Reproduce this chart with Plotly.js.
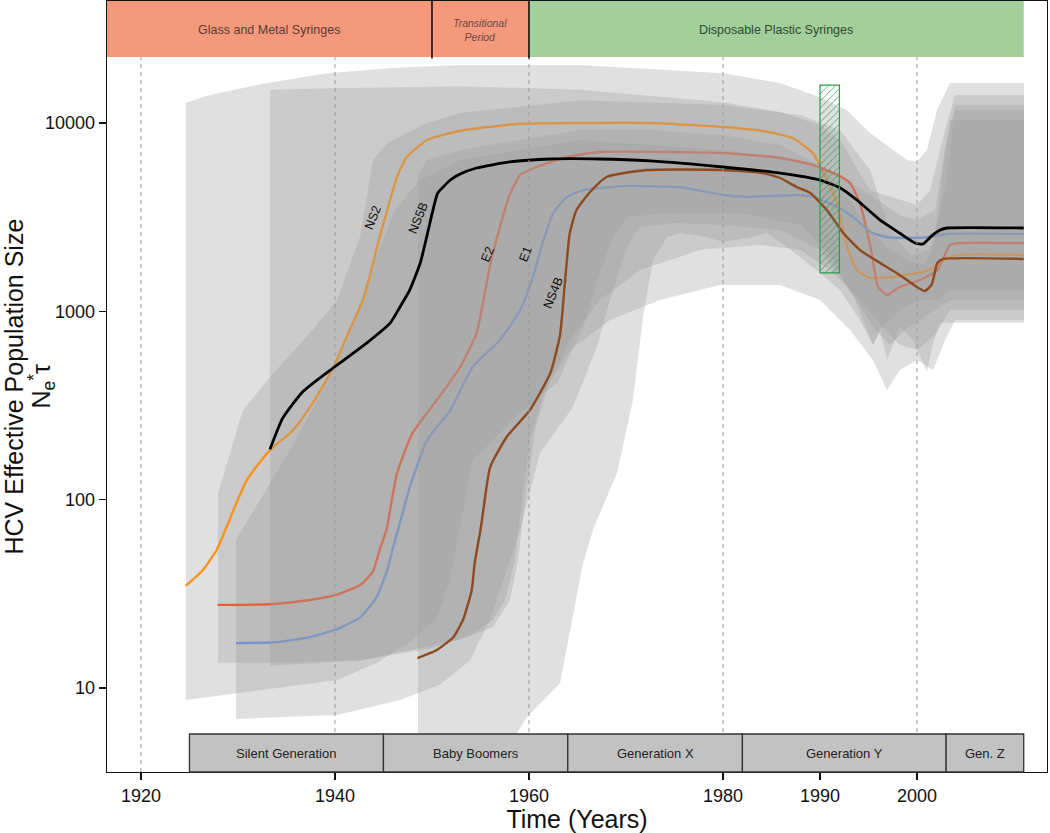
<!DOCTYPE html>
<html>
<head>
<meta charset="utf-8">
<script src="https://cdn.plot.ly/plotly-3.0.1.min.js"></script>
<style>html,body{margin:0;padding:0;background:#fff;}#chart{width:1050px;height:833px;}</style>
</head>
<body>
<div id="chart"></div>
<script>
// ---------- DATA ----------
// Median skyline lines (year, Ne*tau)
const ns2Years = [1924.6,1926.4,1927.8,1928.7,1930.9,1933.3,1935.7,1937.7,1939.8,1941.5,1942.9,1944.6,1946.4,1947.4,1949.5,1952.9,1958.8,1965.3,1972.5,1980,1984.1,1987.2,1989.3,1990.7,1991.8,1992.8,1993.8,1995.2,1997.2,2000.6,2001.6,2002.7,2004.1,2011];
const ns2Vals  = [34.8,42.3,54,69,127,183,234,325,500,796,1148,2470,5160,6600,8130,9100,9880,10000,10000,9520,9070,8320,6900,4980,3670,2195,1655,1503,1520,1617,1700,1870,1990,1990];

const ns5bYears = [1933.3,1934.6,1936.7,1939.8,1943.3,1945.7,1946.7,1947.7,1948.8,1949.5,1950.1,1950.6,1951.9,1952.9,1954.6,1958,1962.2,1967.3,1972.5,1980,1985.9,1990,1992.1,1993.8,1996.2,1998.2,1999.8,2000.6,2001.6,2002.4,2003.1,2011];
const ns5bVals  = [185,270,375,500,680,868,1055,1297,1810,2540,3450,4250,4980,5360,5770,6210,6440,6440,6290,5840,5420,4980,4520,3900,3050,2605,2305,2277,2540,2700,2770,2770];

const e2Years = [1927.9,1933.3,1937.4,1940.2,1942.6,1943.9,1944.6,1945.3,1946.4,1948,1950.5,1952.9,1954.6,1956,1957,1958,1959.1,1960.8,1963.9,1967.3,1980,1985.9,1989.3,1991.8,1993.1,1994.1,1995.2,1996,1996.9,1998.2,2000.3,2002.1,2003.4,2004.4,2011];
const e2Vals  = [27.6,27.8,29.3,31.3,35.2,41.3,54,69,138,226,338,506,767,1765,2800,4150,5300,5840,6600,7010,6930,6520,5985,5300,4800,3760,2195,1345,1222,1345,1467,1655,2250,2305,2305];

const e1Years = [1929.8,1934,1937.4,1940.2,1942.6,1944.3,1945.4,1946,1946.5,1947.7,1949.5,1951.9,1954.2,1957,1959.1,1960.4,1961.4,1962.5,1963.9,1965.6,1969.7,1975.6,1980,1982.5,1987.6,1989.3,1991.8,1993.4,1995.2,1996.9,1999.6,2001.3,2003.1,2011];
const e1Vals  = [17.3,17.5,18.6,20.5,23.7,30.4,42.3,56,69,116,207,299,506,704,1016,1520,2300,3320,4050,4400,4620,4560,4150,4050,4150,4050,3580,3170,2640,2480,2450,2480,2575,2575];

const ns4bYears = [1948.5,1950.5,1952.2,1953.2,1954.1,1954.4,1955,1955.2,1956,1957.7,1960.1,1962.2,1963.2,1963.7,1964.2,1964.9,1966.3,1968,1972.2,1980,1984.1,1985.9,1987.6,1989,1990.7,1992.4,1994.1,1996.2,1998.2,2000,2000.8,2001.5,2002.1,2002.7,2011];
const ns4bVals  = [14.4,15.9,18.6,23,33.1,46,69,81,149,215,299,470,748,1410,2590,3450,4300,5170,5630,5630,5420,5105,4570,4250,3450,2605,2120,1805,1560,1345,1282,1380,1805,1897,1897];

// 95% HPD bands
const ns2BandUpYears = [1924.64,1927.11,1932.99,1939.18,1945.98,1952.89,1965.26,1980,1985.88,1990,1992.78,1995.15,1998.97,2000,2001.03,2002.06,2003.40,2011.03];
const ns2BandUp      = [12800,14100,16300,18400,19600,20300,20300,18400,16300,13700,11700,8850,6360,6230,7200,11700,16300,16300];
const ns2BandLoYears = [1924.64,1940.21,1944.33,1948.04,1950.52,1951.86,1952.89,1954.23,1959.07,1962.89,1965.57,1967.32,1968.66,1970.10,1974.85,1981.75,1987.94,1991.03,1993.61,1995.46,1996.19,1998.25,2000.31,2002.37,2003.40,2011.03];
const ns2BandLo      = [8.63,11.0,13.6,18.0,23.5,37.4,69,162,288,416,826,1597,2482,3170,3326,3326,2874,1991,1148,662,796,1016,1148,1148,1297,1297];

const ns5bBandUpYears = [1933.30,1939.79,1952.89,1965.26,1980,1985.88,1990,1992.06,1995.15,1998.25,2000,2001.34,2002.89,2003.92,2011.03];
const ns5bBandUp      = [15000,15300,15700,15000,12900,11430,9760,8130,4400,3900,3670,4400,9180,14100,14100];
const ns5bBandLoYears = [1933.30,1942.58,1952.89,1956.29,1958.04,1958.87,1959.59,1960.62,1962.16,1964.23,1967.32,1971.44,1977.63,1983.81,1987.94,1991.03,1994.12,1996.70,1998.25,2000,2001.86,2003.40,2011.03];
const ns5bBandLo      = [13.1,14.0,18.0,21.0,29.3,47.8,99.5,234,432,704,1148,1655,2120,2250,2120,1655,1148,796,662,623,748,1016,1016];

const e2BandUpYears = [1927.94,1930.52,1933.30,1937.42,1940.21,1942.58,1943.92,1945.36,1949.48,1952.89,1965.26,1980,1987.94,1992.06,1995.15,1997.22,1999.28,2001.34,2002.89,2003.92,2011.03];
const e2BandUp      = [108,299,448,767,1148,2480,6360,7830,10000,11300,13200,12470,11030,9180,5630,2700,1990,2120,4400,11700,11700];
const e2BandLoYears = [1927.94,1933.30,1942.58,1949.79,1953.92,1956.29,1957.53,1958.56,1959.28,1960.10,1961.65,1964.23,1968.35,1973.51,1979.69,1985.88,1990,1993.09,1995.46,1996.91,1998.25,2000,2001.65,2002.89,2003.92,2011.03];
const e2BandLo      = [13.6,13.6,14.0,16.2,19.0,23.0,29.3,47.8,99.5,207,382,623,899,1148,1380,1380,1148,796,551,382,488,551,488,704,899,899];

const e1BandUpYears = [1929.79,1932.27,1935.36,1938.45,1941.55,1944.12,1946.19,1948.76,1952.89,1959.07,1965.26,1980,1987.94,1992.06,1995.15,1998.25,2000,2001.86,2003.40,2011.03];
const e1BandUp      = [61,99.5,183,359,796,1870,3450,4980,6360,7200,8130,7200,6360,5300,4150,3240,3050,3450,10370,10370];
const e1BandLoYears = [1929.79,1940.21,1946.70,1950.82,1953.92,1955.98,1958.04,1959.07,1961.13,1964.54,1967.01,1968.35,1970.10,1971.44,1974.85,1980,1985.88,1990,1993.09,1995.67,1997.22,1998.76,2000.31,2001.86,2003.40,2011.03];
const e1BandLo      = [6.84,7.18,8.63,10.4,14.0,23.0,47.8,69,177,310,646,1148,2195,2805,2945,2874,2700,2120,1297,796,662,796,899,1016,1148,1148];

const ns4bBandUpYears = [1948.56,1949.48,1952.89,1959.07,1965.26,1972.47,1980,1985.88,1990,1993.09,1995.15,1997.22,1999.28,2000.82,2001.86,2002.89,2003.92,2011.03];
const ns4bBandUp      = [5300,6360,7200,8130,9180,9180,8640,7640,5985,3900,2700,2120,1830,1760,2390,7200,12470,12470];
const ns4bBandLoYears = [1948.56,1957.01,1959.79,1963.20,1964.23,1965.57,1966.60,1967.01,1969.07,1970.72,1971.75,1972.78,1974.23,1975.57,1978.35,1980,1983.09,1984.54,1986.60,1990,1992.06,1994.12,1995.46,1996.19,1996.91,1998.25,1999.59,2001.03,2001.65,2002.37,2011.03];
const ns4bBandLo      = [3.90,4.14,7.0,10.6,20.3,46,69,78,138,338,933,1870,2482,2606,2482,2335,2482,2606,2195,1597,1297,899,662,796,551,826,704,476,679,870,870];

// Periods (top banner)
const periodNames = ['Glass and Metal Syringes', 'Transitional<br>Period', 'Disposable Plastic Syringes'];
const periodStart = [null, 1950, 1960];   // null = start of axis
const periodEnd   = [1950, 1960, 2011];

// Generations (bottom boxes)
const genNames = ['Silent Generation', 'Baby Boomers', 'Generation X', 'Generation Y', 'Gen. Z'];
const genStart = [1925, 1945, 1964, 1982, 2003];
const genEnd   = [1945, 1964, 1982, 2003, 2011];

// Hatched interval
const hatchYears = [1990, 1992];
const hatchVals  = [1600, 15900];

// Reference years and ticks
const refYears = [1920, 1940, 1960, 1980, 2000];
const xTicks = [1920, 1940, 1960, 1980, 1990, 2000];
const yTicks = [10, 100, 1000, 10000];

// Curve labels
const labelNames = ['NS2', 'NS5B', 'E2', 'E1', 'NS4B'];
const labelYears = [1943.9, 1948.6, 1955.7, 1959.6, 1962.5];
const labelVals  = [3130, 3130, 2000, 2000, 1250];

// ---------- BUILD ----------
const xRange = [1916.5, 2013.4];
const yRangeLog = [0.5534, 4.648];
const FONT = 'Liberation Sans, Arial, Helvetica, sans-serif';
const bandFill = 'rgba(158,158,158,0.32)';

function band(upX, upY, loX, loY) {
  return {
    x: upX.concat(loX.slice().reverse()),
    y: upY.concat(loY.slice().reverse()),
    type: 'scatter', mode: 'lines', fill: 'toself', fillcolor: bandFill,
    line: {width: 0, color: 'rgba(0,0,0,0)'}, hoverinfo: 'skip', showlegend: false
  };
}
function line(x, y, color, w) {
  return {x: x, y: y, type: 'scatter', mode: 'lines',
    line: {color: color, width: w, shape: 'spline', smoothing: 0.5},
    hoverinfo: 'skip', showlegend: false};
}

const traces = [
  band(ns2BandUpYears, ns2BandUp, ns2BandLoYears, ns2BandLo),
  band(e2BandUpYears, e2BandUp, e2BandLoYears, e2BandLo),
  band(e1BandUpYears, e1BandUp, e1BandLoYears, e1BandLo),
  line(ns2Years, ns2Vals, '#F7931E', 2.4),
  line(e2Years, e2Vals, '#E4603E', 2.4),
  line(e1Years, e1Vals, '#7294CF', 2.4),
  band(ns5bBandUpYears, ns5bBandUp, ns5bBandLoYears, ns5bBandLo),
  band(ns4bBandUpYears, ns4bBandUp, ns4bBandLoYears, ns4bBandLo),
  line(ns4bYears, ns4bVals, '#8E4A20', 2.4),
  line(ns5bYears, ns5bVals, '#000000', 2.8),
  {
    x: [hatchYears[0], hatchYears[1], hatchYears[1], hatchYears[0], hatchYears[0]],
    y: [hatchVals[0], hatchVals[0], hatchVals[1], hatchVals[1], hatchVals[0]],
    type: 'scatter', mode: 'lines', fill: 'toself', fillcolor: 'rgba(0,0,0,0)',
    fillpattern: {shape: '/', fgcolor: '#2E9B50', bgcolor: 'rgba(0,0,0,0)', size: 5, solidity: 0.15},
    line: {color: '#2E9B50', width: 1.2}, hoverinfo: 'skip', showlegend: false
  }
];

const bannerBottom = (772 - 57) / 771;
const genTop = (772 - 734) / 771;
const shapes = [];
const annotations = [];

refYears.forEach(yr => shapes.push({
  type: 'line', xref: 'x', yref: 'paper', x0: yr, x1: yr, y0: 0, y1: bannerBottom,
  line: {color: '#9a9a9a', width: 1, dash: '4px,4px'}, layer: 'above'
}));

const periodFills = ['#F5997C', '#F5997C', '#A2CF9A'];
const periodText = ['#5a3b33', '#6a4a42', '#2f4a30'];
periodNames.forEach((nm, i) => {
  const x0 = periodStart[i] === null ? xRange[0] : periodStart[i];
  const x1 = periodEnd[i];
  shapes.push({type: 'rect', xref: 'x', yref: 'paper', x0: x0, x1: x1, y0: bannerBottom, y1: 1,
    fillcolor: periodFills[i], line: {width: 0}, layer: 'above'});
  annotations.push({xref: 'x', yref: 'paper', x: (x0 + x1) / 2, y: (772 - 30) / 771,
    text: i === 1 ? '<i>' + nm + '</i>' : nm, showarrow: false,
    font: {family: FONT, size: i === 1 ? 10.5 : 12.5, color: periodText[i]},
    xanchor: 'center', yanchor: 'middle'});
});
[periodStart[1], periodStart[2]].forEach(yr => shapes.push({
  type: 'line', xref: 'x', yref: 'paper', x0: yr, x1: yr, y0: bannerBottom - 0.002, y1: 1,
  line: {color: '#111', width: 1.6}, layer: 'above'
}));

genNames.forEach((nm, i) => {
  shapes.push({type: 'rect', xref: 'x', yref: 'paper', x0: genStart[i], x1: genEnd[i], y0: 0, y1: genTop,
    fillcolor: '#C2C2C2', line: {color: '#333', width: 1.3}, layer: 'above'});
  annotations.push({xref: 'x', yref: 'paper', x: (genStart[i] + genEnd[i]) / 2, y: genTop / 2,
    text: nm, showarrow: false, font: {family: FONT, size: 13, color: '#222'},
    xanchor: 'center', yanchor: 'middle'});
});

labelNames.forEach((nm, i) => annotations.push({
  xref: 'x', yref: 'y', x: labelYears[i], y: Math.log10(labelVals[i]), text: nm,
  showarrow: false, textangle: -68, font: {family: FONT, size: 12.5, color: '#111'},
  xanchor: 'center', yanchor: 'middle'
}));

// Y-axis title as two rotated lines
annotations.push({xref: 'paper', yref: 'paper', x: (13 - 107) / 940, y: 0.5,
  text: 'HCV Effective Population Size', textangle: -90, showarrow: false,
  font: {family: FONT, size: 25, color: '#111'}, xanchor: 'center', yanchor: 'middle'});
annotations.push({xref: 'paper', yref: 'paper', x: (41 - 107) / 940, y: 0.5,
  text: 'N<sub>e</sub><sup>*</sup>τ', textangle: -90, showarrow: false,
  font: {family: FONT, size: 25, color: '#111'}, xanchor: 'center', yanchor: 'middle'});

const layout = {
  width: 1050, height: 833,
  margin: {l: 107, r: 3, t: 1, b: 61},
  paper_bgcolor: '#fff', plot_bgcolor: '#fff',
  showlegend: false,
  font: {family: FONT, color: '#111'},
  xaxis: {
    range: xRange, tickvals: xTicks, ticktext: xTicks.map(String),
    ticks: 'outside', ticklen: 7, tickwidth: 1.2, tickcolor: '#111',
    showline: true, linecolor: '#111', linewidth: 1.4, mirror: true,
    showgrid: false, zeroline: false,
    tickfont: {family: FONT, size: 18, color: '#111'},
    title: {text: 'Time (Years)', font: {family: FONT, size: 25, color: '#111'}, standoff: 6}
  },
  yaxis: {
    type: 'log', range: yRangeLog, tickvals: yTicks, ticktext: yTicks.map(String),
    ticks: 'outside', ticklen: 7, tickwidth: 1.2, tickcolor: '#111',
    showline: true, linecolor: '#111', linewidth: 1.4, mirror: true,
    showgrid: false, zeroline: false,
    tickfont: {family: FONT, size: 18, color: '#111'}
  },
  shapes: shapes,
  annotations: annotations
};

Plotly.newPlot('chart', traces, layout, {staticPlot: true, displayModeBar: false});
</script>
</body>
</html>
